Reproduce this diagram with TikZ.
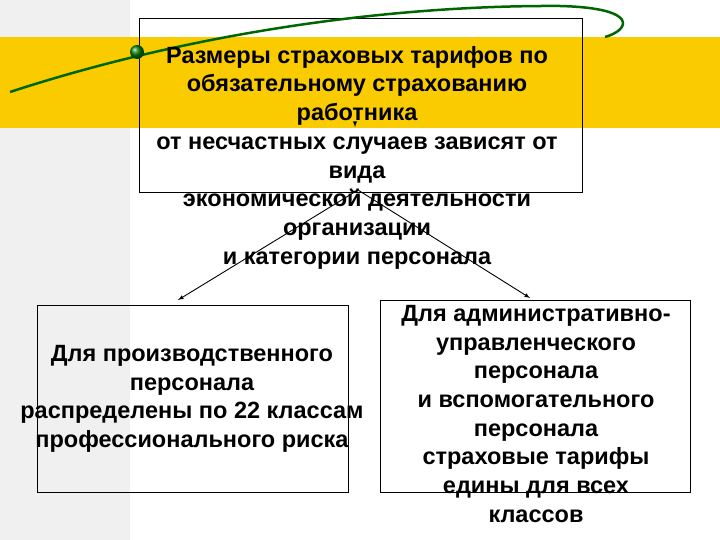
\documentclass[tikz,border=0pt]{standalone}
\usepackage{fontspec}
\setmainfont{Liberation Sans}
\definecolor{band}{RGB}{250,204,0}
\begin{document}
\begin{tikzpicture}[x=1pt,y=-1pt,
  txt/.style={align=center,font=\fontsize{23.5}{28.7}\selectfont\bfseries,inner sep=0pt},
  frame/.style={draw=black,line width=0.8pt},
  arr/.style={draw=black,line width=0.9pt,-latex}]
\useasboundingbox (0,0) rectangle (720,540);
\fill[white] (0,0) rectangle (720,540);
\fill[black!6] (0,0) rectangle (130,540);
\fill[band] (0,37) rectangle (720,128);
\node[frame,minimum width=443,minimum height=174,anchor=north west] (top) at (139,18) {};
\draw[green!40!black,line width=2.5pt] (10,92) .. controls (200,30) and (400,5) .. (560,6) .. controls (640,8) and (630,30) .. (605,37);
\shade[ball color=green!50!black] (137,52) circle (7);
\node[txt,anchor=north] (ttext) at (357,46) {Размеры страховых тарифов по\\обязательному страхованию\\работника\\от несчастных случаев  зависят от\\вида\\экономической деятельности\\организации\\и категории персонала};
\coordinate (sa) at (355,127);
\draw[arr] (355,124) -- (sa);
\node[frame,minimum width=311,minimum height=187,anchor=north west] (lb) at (37,305) {};
\node[frame,minimum width=310,minimum height=192,anchor=north west] (rb) at (380,300) {};
\node[txt] at (192,399) {Для производственного\\персонала\\распределены по 22 классам\\профессионального риска};
\node[txt,anchor=north] at (536,305) {Для административно-\\управленческого\\персонала\\и вспомогательного\\персонала\\страховые тарифы\\едины для всех\\классов};
\coordinate (apex) at (358,190);
\coordinate (la) at (178,300);
\coordinate (ra) at (530,298);
\draw[arr] (apex) -- (la);
\draw[arr] (apex) -- (ra);
\end{tikzpicture}
\end{document}
